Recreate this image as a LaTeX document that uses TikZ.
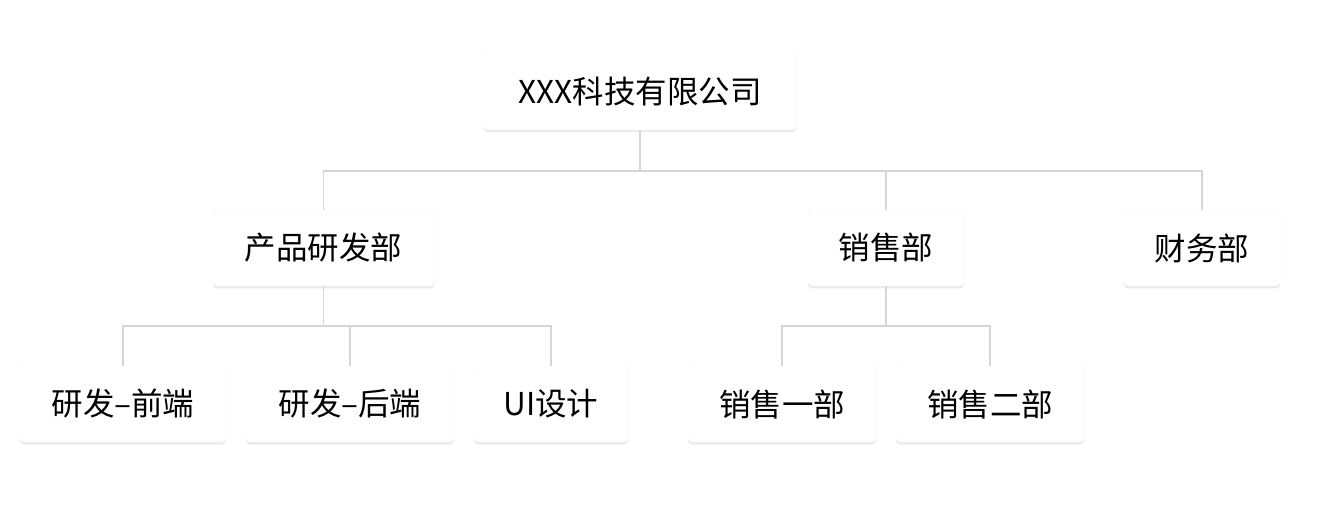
\documentclass[tikz,border=0pt]{standalone}
\usepackage{fontspec}
\setmainfont{Noto Sans CJK SC}
\usetikzlibrary{positioning,shadows}

\begin{document}
\begin{tikzpicture}
    [x=1pt,y=-1pt,
     dept/.style={rectangle,rounded corners=4pt,fill=white,draw=black!4,
       minimum height=76pt,inner sep=0pt,font=\fontsize{31.5}{38}\selectfont,
       drop shadow={shadow xshift=0pt,shadow yshift=-2.5pt,opacity=0.16}},
     link/.style={draw=black!16,line width=1.6pt}]

    \useasboundingbox (0,0) rectangle (1330,510);

    \node[dept,minimum width=312pt] (company) at (640,92) {XXX科技有限公司};

    \node[dept,minimum width=221pt] (rd) at (323.5,248) {产品研发部};
    \node[dept,minimum width=156pt] (sales) at (886,248) {销售部};
    \node[dept,minimum width=156pt] (finance) at (1202,248) {财务部};

    \node[dept,minimum width=206pt] (rdfront) at (123,404) {研发–前端};
    \node[dept,minimum width=208pt] (rdback) at (350,404) {研发–后端};
    \node[dept,minimum width=154pt] (uidesign) at (551,404) {UI设计};
    \node[dept,minimum width=188pt] (salesone) at (782,404) {销售一部};
    \node[dept,minimum width=188pt] (salestwo) at (990,404) {销售二部};

    % company to departments
    \path[link] (company.south) -- ++(0,41) coordinate (busa);
    \path[link] (busa) -| (rd.north);
    \path[link] (busa) -| (sales.north);
    \path[link] (busa) -| (finance.north);

    % R&D groups
    \path[link] (rd.south) -- ++(0,40) coordinate (busb);
    \path[link] (busb) -| (rdfront.north);
    \path[link] (busb) -| (rdback.north);
    \path[link] (busb) -| (uidesign.north);

    % sales groups
    \path[link] (sales.south) -- ++(0,40) coordinate (busc);
    \path[link] (busc) -| (salesone.north);
    \path[link] (busc) -| (salestwo.north);
\end{tikzpicture}
\end{document}
